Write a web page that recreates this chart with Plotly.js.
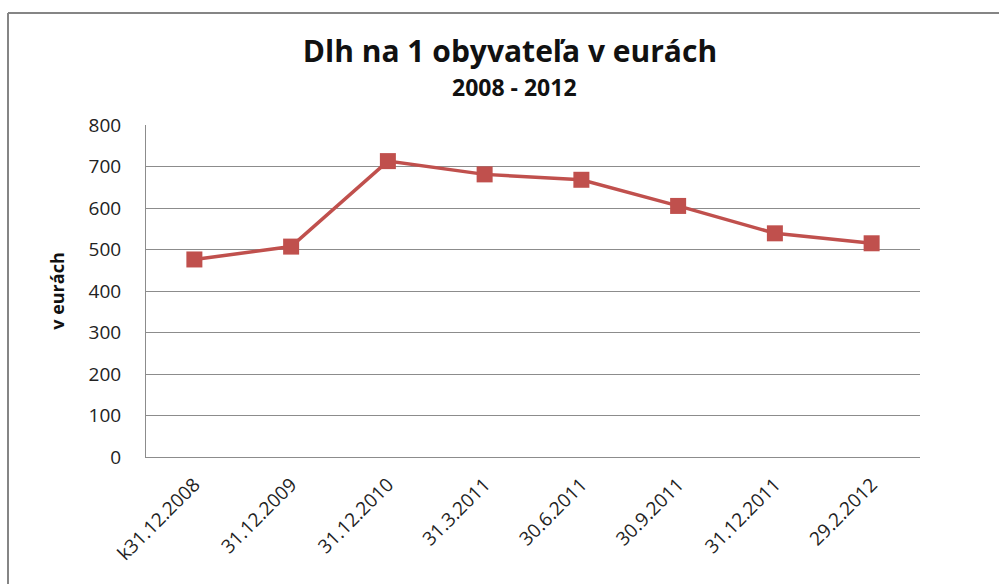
<!DOCTYPE html>
<html>
<head>
<meta charset="utf-8">
<script src="https://cdn.plot.ly/plotly-3.0.1.min.js"></script>
<style>
html,body{margin:0;padding:0;background:#fff;}
#chart{width:999px;height:584px;}
</style>
</head>
<body>
<div id="chart"></div>
<script>
const categories = ["k31.12.2008","31.12.2009","31.12.2010","31.3.2011","30.6.2011","30.9.2011","31.12.2011","29.2.2012"];
const debtPerCapita = [476, 507, 713, 681, 668, 605, 539, 515];
const yTicks = [0,100,200,300,400,500,600,700,800];

const W = 999, H = 584;
const M = {l:146, r:79, t:125, b:127};
const pw = W - M.l - M.r, ph = H - M.t - M.b;
const px = v => (v - M.l) / pw;
const py = v => (H - M.b - v) / ph;

const FONT = "Open Sans, Lato, sans-serif";

const trace = {
  x: categories,
  y: debtPerCapita,
  type: 'scatter',
  mode: 'lines+markers',
  line: {color: '#C0504D', width: 3.5},
  marker: {symbol: 'square', size: 16, color: '#C0504D'},
  cliponaxis: false,
  hoverinfo: 'x+y'
};

const layout = {
  width: W, height: H,
  margin: M,
  paper_bgcolor: '#ffffff',
  plot_bgcolor: '#ffffff',
  showlegend: false,
  font: {family: FONT, color: '#222'},
  title: {
    text: '<b>Dlh na 1 obyvateľa v eurách</b>',
    font: {family: FONT, size: 30, color: '#111'},
    x: 510/W, xanchor: 'center',
    y: 1 - 51/H, yanchor: 'middle'
  },
  annotations: [{
    text: '<b>2008 - 2012</b>',
    xref: 'paper', yref: 'paper',
    x: px(514), y: py(87),
    xanchor: 'center', yanchor: 'middle',
    showarrow: false,
    font: {family: FONT, size: 23, color: '#111'}
  }],
  xaxis: {
    type: 'category',
    range: [-0.5, categories.length - 0.5],
    tickangle: -45,
    showline: true, linecolor: '#8c8c8c', linewidth: 1,
    showgrid: false, zeroline: false,
    ticks: '',
    ticklabelstandoff: 8,
    tickfont: {family: FONT, size: 19, color: '#222'}
  },
  yaxis: {
    range: [0, 800],
    tickvals: yTicks,
    showline: true, linecolor: '#8c8c8c', linewidth: 1,
    showgrid: true, gridcolor: '#8c8c8c', gridwidth: 1,
    zeroline: false,
    ticks: '',
    ticklabelstandoff: 20,
    tickfont: {family: FONT, size: 19, color: '#222'},
    title: {text: '<b>v eurách</b>', font: {family: FONT, size: 18, color: '#111'}, standoff: 19}
  },
  shapes: [
    {type: 'line', xref: 'paper', yref: 'paper', x0: px(8), x1: px(999), y0: py(13), y1: py(13), line: {color: '#858585', width: 2}},
    {type: 'line', xref: 'paper', yref: 'paper', x0: px(8), x1: px(8), y0: py(13), y1: py(584), line: {color: '#858585', width: 2}}
  ]
};

Plotly.newPlot('chart', [trace], layout, {displayModeBar: false, staticPlot: true});
</script>
</body>
</html>
